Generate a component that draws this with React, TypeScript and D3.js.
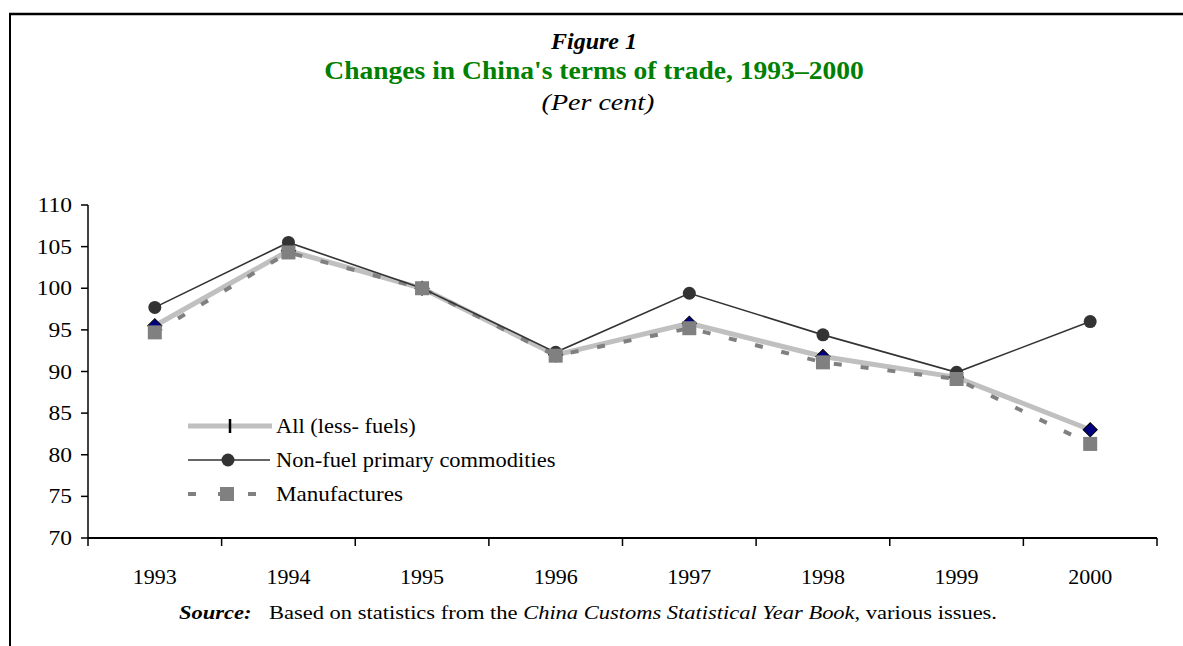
import React from "react";
import * as d3 from "d3";

const years = ["1993", "1994", "1995", "1996", "1997", "1998", "1999", "2000"];
const allLessFuels = [95.5, 104.5, 100, 92.0, 95.8, 91.8, 89.3, 83.0];
const nonFuelPrimary = [97.7, 105.5, 100, 92.3, 99.4, 94.4, 89.9, 96.0];
const manufactures = [94.7, 104.3, 100, 91.9, 95.2, 91.1, 89.1, 81.3];
const yTicks = [70, 75, 80, 85, 90, 95, 100, 105, 110];

const width = 1183;
const height = 646;
const margin = { top: 205, right: 26, bottom: 108, left: 88 };
const serif = "'Liberation Serif', 'Times New Roman', serif";

// the original typesetting is a bit wider than Times, so stretch horizontally
function SText({ x, y, sx = 1, anchor = "start", children, ...rest }) {
  return (
    <text transform={`translate(${x},${y}) scale(${sx},1)`} textAnchor={anchor} {...rest}>
      {children}
    </text>
  );
}

export default function App() {
  const plotWidth = width - margin.left - margin.right;
  const plotHeight = height - margin.top - margin.bottom;

  const xScale = d3.scaleBand().domain(years).range([0, plotWidth]).padding(0);
  const yScale = d3.scaleLinear().domain([70, 110]).range([plotHeight, 0]);
  const cx = (y) => xScale(y) + xScale.bandwidth() / 2;

  const line = d3
    .line()
    .x((d) => cx(d.year))
    .y((d) => yScale(d.value));

  const toPts = (vals) => vals.map((v, i) => ({ year: years[i], value: v }));
  const allPts = toPts(allLessFuels);
  const nonPts = toPts(nonFuelPrimary);
  const manPts = toPts(manufactures);

  // x ticks sit on band edges, like Excel category axes
  const xEdges = years.map((y) => xScale(y)).concat([plotWidth]);

  return (
    <svg
      width={width}
      height={height}
      style={{ position: "absolute", left: 0, top: 0, background: "#fff" }}
      fontFamily={serif}
    >
      {/* frame */}
      <line x1={9} y1={14} x2={width} y2={14} stroke="#000" strokeWidth={2.5} />
      <line x1={10} y1={13} x2={10} y2={height} stroke="#000" strokeWidth={2} />

      <SText x={594} y={49} sx={1.0} anchor="middle" fontSize={24} fontStyle="italic" fontWeight="bold">
        Figure 1
      </SText>
      <SText x={594} y={79} sx={1.06} anchor="middle" fontSize={26} fontWeight="bold" fill="#008000">
        Changes in China's terms of trade, 1993–2000
      </SText>
      <SText x={598} y={110} sx={1.22} anchor="middle" fontSize={23} fontStyle="italic">
        (Per cent)
      </SText>

      <g transform={`translate(${margin.left},${margin.top})`}>
        {/* y axis */}
        <line x1={0} y1={0} x2={0} y2={plotHeight} stroke="#000" strokeWidth={1.5} />
        {yTicks.map((t) => (
          <g key={t} transform={`translate(0,${yScale(t)})`}>
            <line x1={-7} x2={0} stroke="#000" strokeWidth={1.5} />
            <SText x={-16} y={7} sx={1.12} anchor="end" fontSize={21}>
              {t}
            </SText>
          </g>
        ))}

        {/* x axis */}
        <line x1={0} y1={plotHeight} x2={plotWidth} y2={plotHeight} stroke="#000" strokeWidth={2} />
        {xEdges.map((x, i) => (
          <line key={i} x1={x} x2={x} y1={plotHeight} y2={plotHeight + 8} stroke="#000" strokeWidth={1.5} />
        ))}
        {years.map((y) => (
          <SText key={y} x={cx(y)} y={plotHeight + 46} sx={1.1} anchor="middle" fontSize={20}>
            {y}
          </SText>
        ))}

        {/* series */}
        <path d={line(allPts)} fill="none" stroke="#c0c0c0" strokeWidth={5} />
        <path d={line(manPts)} fill="none" stroke="#808080" strokeWidth={4} strokeDasharray="8 19" />
        <path d={line(nonPts)} fill="none" stroke="#333" strokeWidth={1.6} />

        {allPts.map((d) => (
          <rect
            key={"a" + d.year}
            x={-5}
            y={-5}
            width={10}
            height={10}
            fill="#000080"
            stroke="#000"
            strokeWidth={1}
            transform={`translate(${cx(d.year)},${yScale(d.value)}) rotate(45)`}
          />
        ))}
        {nonPts.map((d) => (
          <circle key={"n" + d.year} cx={cx(d.year)} cy={yScale(d.value)} r={6.5} fill="#333" />
        ))}
        {manPts.map((d) => (
          <rect key={"m" + d.year} x={cx(d.year) - 7} y={yScale(d.value) - 7} width={14} height={14} fill="#808080" />
        ))}
      </g>

      {/* legend */}
      <g fontSize={21}>
        <line x1={188} x2={272} y1={426} y2={426} stroke="#c0c0c0" strokeWidth={5} />
        <line x1={230} x2={230} y1={419} y2={433} stroke="#000" strokeWidth={2.5} />
        <SText x={276} y={433} sx={1.07}>All (less- fuels)</SText>

        <line x1={188} x2={270} y1={460} y2={460} stroke="#333" strokeWidth={1.6} />
        <circle cx={228} cy={460} r={6.5} fill="#333" />
        <SText x={276} y={467} sx={1.07}>Non-fuel primary commodities</SText>

        <line x1={188} x2={262} y1={494} y2={494} stroke="#808080" strokeWidth={4} strokeDasharray="8 22" />
        <rect x={220} y={487} width={14} height={14} fill="#808080" />
        <SText x={276} y={501} sx={1.1}>Manufactures</SText>
      </g>

      <SText x={588} y={619} sx={1.25} anchor="middle" fontSize={18}>
        <tspan fontWeight="bold" fontStyle="italic">Source:</tspan>
        <tspan dx={14}>Based on statistics from the </tspan>
        <tspan fontStyle="italic">China Customs Statistical Year Book</tspan>
        <tspan>, various issues.</tspan>
      </SText>
    </svg>
  );
}
